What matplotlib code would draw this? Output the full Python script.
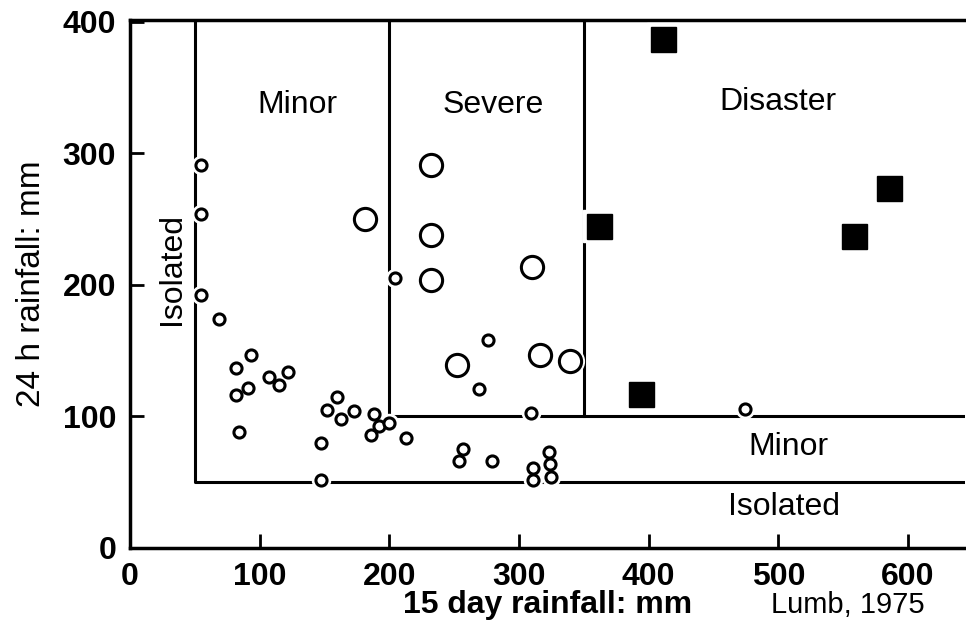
import matplotlib.pyplot as plt

plt.rcParams['font.family'] = ['Liberation Sans', 'DejaVu Sans']

# small open circles: minor events
small_x = [55, 55, 55, 69, 93, 82, 91, 82, 107, 115, 122, 84, 160, 152, 163, 173,
           188, 192, 200, 186, 213, 147, 147, 204, 276, 269, 309, 257, 254, 279,
           323, 324, 311, 325, 311, 474]
small_y = [291, 254, 192, 174, 147, 137, 122, 116, 130, 124, 134, 88, 115, 105, 98, 104,
           102, 93, 95, 86, 84, 80, 52, 205, 158, 121, 103, 75, 66, 66,
           73, 64, 61, 54, 52, 106]
# large open circles: severe events
big_x = [181, 232, 232, 232, 310, 252, 316, 339]
big_y = [250, 291, 238, 204, 214, 139, 147, 142]
# filled squares: disasters
sq_x = [411, 362, 394, 585, 558]
sq_y = [387, 245, 117, 274, 237]

# threshold lines
x_minor, x_severe, x_disaster = 50, 200, 350
y_isolated, y_minor = 50, 100
xmax, ymax = 644, 400

fig = plt.figure(figsize=(9.66, 6.3), dpi=100)
ax = fig.add_axes([0.1346, 0.1302, 0.8644, 0.8381])

lw = 2.2
ax.plot([x_minor, x_minor, xmax], [ymax, y_isolated, y_isolated], color='black', lw=lw, zorder=2)
ax.plot([x_severe, x_severe, xmax], [ymax, y_minor, y_minor], color='black', lw=lw, zorder=2)
ax.plot([x_disaster, x_disaster], [ymax, y_minor], color='black', lw=lw, zorder=2)

# white halos so lines break around the marks
ax.plot(small_x, small_y, 'o', ms=13, mfc='white', mec='white', zorder=3)
ax.plot(big_x, big_y, 'o', ms=20, mfc='white', mec='white', zorder=3)
ax.plot(sq_x, sq_y, 's', ms=23, mfc='white', mec='white', zorder=3)

ax.plot(small_x, small_y, 'o', ms=8, mfc='white', mec='black', mew=2.2, zorder=4)
ax.plot(big_x, big_y, 'o', ms=16, mfc='white', mec='black', mew=2.2, zorder=4)
ax.plot(sq_x, sq_y, 's', ms=18, mfc='black', mec='black', zorder=4)

fs = 23
ax.text(129, 337, 'Minor', fontsize=fs, ha='center', va='center')
ax.text(280, 337, 'Severe', fontsize=fs, ha='center', va='center')
ax.text(500, 339, 'Disaster', fontsize=fs, ha='center', va='center')
ax.text(508, 77, 'Minor', fontsize=fs, ha='center', va='center')
ax.text(504, 31, 'Isolated', fontsize=fs, ha='center', va='center')
ax.text(32, 212, 'Isolated', fontsize=fs, ha='center', va='center', rotation=90)

ax.set_xlim(0, xmax)
ax.set_ylim(0, 401.5)
ax.set_xticks([0, 100, 200, 300, 400, 500, 600])
ax.set_yticks([0, 100, 200, 300, 400])
ax.tick_params(direction='in', length=10, width=2, labelsize=23)
ax.tick_params(axis='x', pad=10)
ax.tick_params(axis='y', pad=10)
for lab in ax.get_xticklabels() + ax.get_yticklabels():
    lab.set_fontweight('bold')
ax.spines['right'].set_visible(False)
for s in ['left', 'bottom', 'top']:
    ax.spines[s].set_linewidth(2.5)

ax.set_xlabel('15 day rainfall: mm', fontsize=23, fontweight='bold')
ax.xaxis.set_label_coords(0.5, -0.08)
ax.set_ylabel('24 h rainfall: mm', fontsize=24)
ax.yaxis.set_label_coords(-0.1, 0.5)
fig.text(0.878, 0.04, 'Lumb, 1975', fontsize=21, ha='center', va='center')

fig.savefig('out.png', dpi=100)
